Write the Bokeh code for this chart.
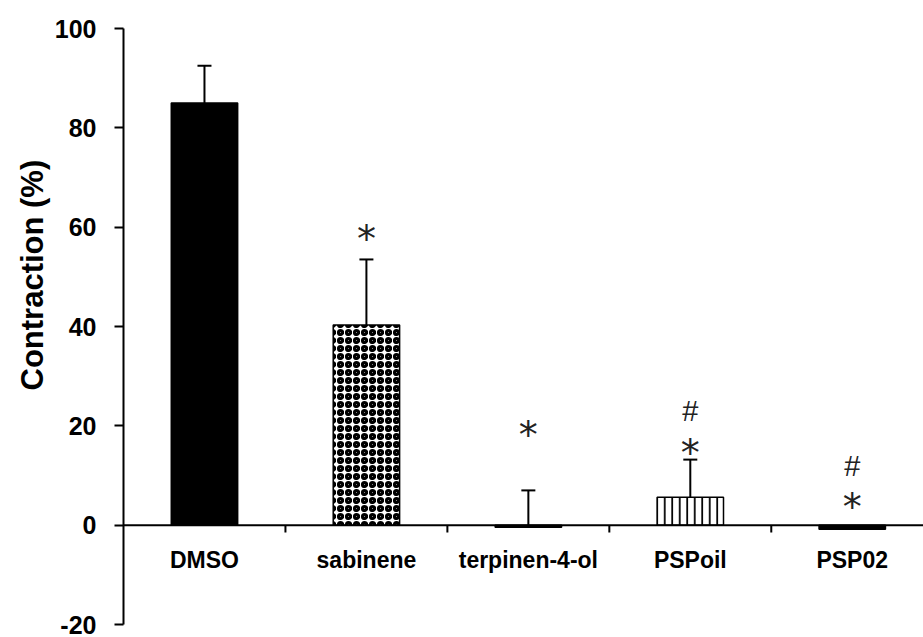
import numpy as np
from bokeh.plotting import figure
from bokeh.models import Range1d, Span, Whisker, TeeHead, ColumnDataSource, Title, FixedTicker
from bokeh.core.properties import value
from bokeh.embed import file_html
from bokeh.resources import INLINE

categories = ["DMSO", "sabinene", "terpinen-4-ol", "PSPoil", "PSP02"]
means = [85.0, 40.3, -0.4, 5.6, -0.8]
errors = [7.5, 13.2, 7.0, 7.6, 0.0]
fills = ["black", "white", "black", "white", "black"]
hatches = [" ", "ring", " ", "vertical_line", " "]
star_y = [None, 59.0, 19.5, 16.0, 5.0]
hash_y = [None, None, None, 23.0, 12.0]
y_ticks = [-20, 0, 20, 40, 60, 80, 100]

FONT = "Liberation Sans"
n = len(categories)
xs = np.arange(n) + 0.5
HATCH_W = {" ": 1.0, "ring": 3.1, "vertical_line": 1.8}
HATCH_S = {" ": 8.0, "ring": 8.0, "vertical_line": 7.5}

p = figure(width=923, height=637, output_backend="svg", toolbar_location=None,
           x_range=Range1d(0, 4.94), y_range=Range1d(-20, 100),
           x_axis_location=None, min_border_left=123, min_border_right=0,
           min_border_top=28, min_border_bottom=13)
p.outline_line_color = None
p.grid.visible = False
p.background_fill_color = "white"

# y axis
ya = p.yaxis[0]
ya.ticker = FixedTicker(ticks=y_ticks)
ya.major_label_overrides = {t: str(t) for t in y_ticks}
ya.axis_line_width = 2
ya.axis_line_color = "black"
ya.major_tick_line_width = 2
ya.major_tick_out = 9
ya.major_tick_in = 0
ya.minor_tick_out = 0
ya.minor_tick_in = 0
ya.major_label_standoff = 18
ya.major_label_text_font = FONT
ya.major_label_text_font_style = "bold"
ya.major_label_text_font_size = "25px"
ya.major_label_text_color = "black"

# y axis label as a left-side title
p.add_layout(Title(text="Contraction (%)", align="left", offset=234,
                   text_font=FONT, text_font_style="bold", text_font_size="31px",
                   text_color="black", standoff=4), "left")

# bars
src = ColumnDataSource(dict(x=xs, top=means, fill=fills, hatch=hatches,
                            hw=[HATCH_W[h] for h in hatches],
                            hs=[HATCH_S[h] for h in hatches]))
p.vbar(x="x", top="top", bottom=0, width=0.41, source=src,
       fill_color="fill", line_color="black", line_width=1.5,
       hatch_pattern="hatch", hatch_color="black", hatch_scale="hs", hatch_weight="hw")

# zero line and category ticks
p.add_layout(Span(location=0, dimension="width", line_color="black", line_width=2))
bx = np.arange(1, n)
p.segment(x0=bx, y0=0, x1=bx, y1=-1.5, line_color="black", line_width=2)

# error bars (upper only)
ex = [x for x, e in zip(xs, errors) if e > 0]
el = [max(m, 0) for m, e in zip(means, errors) if e > 0]
eu = [max(m, 0) + e for m, e in zip(means, errors) if e > 0]
esrc = ColumnDataSource(dict(x=ex, lower=el, upper=eu))
w = Whisker(base="x", lower="lower", upper="upper", source=esrc,
            line_color="black", line_width=2, lower_head=None,
            upper_head=TeeHead(size=14, line_color="black", line_width=2))
p.add_layout(w)

# category labels
p.text(x=xs, y=[-7] * n, text=categories, text_font=value(FONT),
       text_font_style="bold", text_font_size="23px", text_align="center",
       text_baseline="middle", text_color="black")

# significance marks
sx = [x for x, s in zip(xs, star_y) if s is not None]
sy = [s for s in star_y if s is not None]
p.text(x=sx, y=sy, text=["*"] * len(sx), text_font=value("DejaVu Sans"),
       text_font_size="38px", text_align="center", text_baseline="middle",
       y_offset=7, text_color="#222222")
hx = [x for x, s in zip(xs, hash_y) if s is not None]
hy = [s for s in hash_y if s is not None]
p.text(x=hx, y=hy, text=["#"] * len(hx), text_font=value(FONT),
       text_font_size="29px", text_align="center", text_baseline="middle",
       text_color="#222222")

open("out.html", "w").write(file_html(p, INLINE))
